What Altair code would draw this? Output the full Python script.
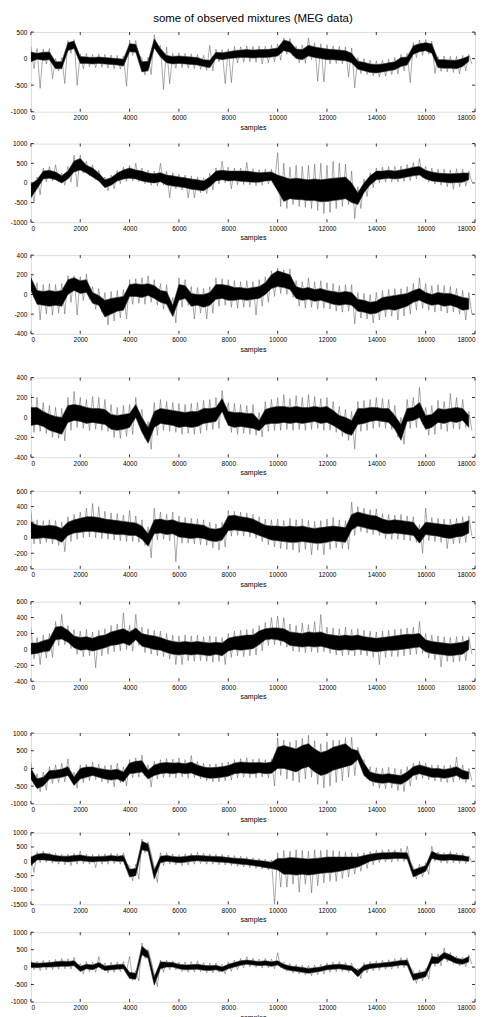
import altair as alt
import pandas as pd

FONT = "Liberation Sans"
W = 446

# sample positions of the read-off bins (every 250 samples)
samples = list(range(0, 18000, 250))
x_ticks = [0, 2000, 4000, 6000, 8000, 10000, 12000, 14000, 16000, 18000]

# ---------- panel 1 ----------
p1_lo = [-60,-10,-30,-20,-190,-190,150,190,-90,-90,-100,-90,-100,-110,-120,-140,130,120,-250,-230,
         200,30,-80,-100,-90,-100,-110,-120,-150,-170,0,-20,0,10,20,20,10,20,20,30,
         50,150,120,0,-20,50,20,0,-20,-20,-30,-40,-80,-200,-230,-260,-270,-250,-230,-210,
         -150,-120,80,130,150,100,-170,-180,-180,-190,-150,-50]
p1_hi = [125,100,120,125,-60,-60,300,330,40,30,20,30,20,10,0,-10,280,270,-60,-50,
         370,190,60,40,50,40,30,20,-20,-30,120,110,130,150,160,170,160,170,170,180,
         200,350,320,180,170,250,220,200,180,170,160,150,100,-50,-70,-100,-110,-100,-80,-60,
         20,30,240,280,300,280,-20,-20,-30,-30,0,50]
p1_min = [-190,-560,-100,-375,-230,-470,100,-500,-190,-150,-170,-160,-180,-190,-200,-520,60,50,-310,-300,
          150,-580,-470,-180,-170,-180,-190,-200,-220,-230,-60,-470,-450,-80,-70,-60,-70,-100,-80,-60,
          -30,80,50,-80,-90,-20,-425,-440,-100,-90,-100,-345,-550,-280,-300,-330,-350,-330,-300,-290,
          -230,-450,20,60,80,-280,-240,-250,-260,-290,-230,-100]
p1_max = [220,190,180,190,0,20,340,360,90,100,80,90,80,70,60,50,350,340,20,30,
          450,250,220,100,110,100,90,80,60,250,180,170,180,230,220,240,230,240,230,250,
          280,390,380,240,260,390,300,280,260,240,230,220,200,20,0,-30,-40,-30,-10,20,
          80,100,300,350,360,330,40,50,40,40,60,80]

# ---------- panel 2 ----------
p2_lo = [-380,-150,100,120,80,0,100,280,330,250,150,50,-120,-60,50,100,120,100,50,20,
         0,30,-50,-80,-100,-120,-160,-180,-200,-100,50,80,50,60,40,30,20,20,50,60,
         -200,-470,-400,-420,-430,-450,-450,-480,-470,-450,-430,-400,-500,-550,-250,-50,80,100,120,100,
         120,150,180,200,100,50,30,20,0,10,20,80]
p2_hi = [-30,80,300,320,280,180,300,560,620,450,380,250,80,130,250,330,380,330,300,250,
         230,260,200,180,150,130,100,80,50,150,300,320,300,300,300,300,280,260,270,280,
         200,150,100,120,100,80,100,80,100,120,130,150,0,-250,0,180,300,300,320,300,
         330,360,400,420,320,280,250,240,230,240,250,250]
p2_min = [-500,-300,30,50,20,-60,20,-100,250,180,80,-20,-200,-150,-20,40,50,30,-20,-60,
          -80,-50,-380,-150,-180,-380,-380,-250,-270,-180,-30,0,-150,-50,-40,-50,-70,-60,-30,-20,
          -600,-650,-550,-600,-620,-650,-700,-780,-750,-650,-600,-550,-910,-650,-350,-120,0,20,30,20,
          40,60,100,120,20,-30,-60,-100,-160,-100,-80,20]
p2_max = [20,150,380,420,460,250,420,700,710,550,460,330,150,200,320,400,450,500,380,330,
          300,500,300,260,220,200,180,150,130,250,380,550,400,380,380,520,360,340,350,350,
          770,500,400,450,420,450,480,500,450,550,500,480,300,-100,100,260,380,400,420,420,
          430,470,520,620,420,380,350,350,330,360,350,300]

# ---------- panel 3 ----------
p3_lo = [40,-100,-110,-120,-110,-120,0,40,10,20,-90,-110,-230,-200,-170,-160,-20,-20,-30,-10,
         -40,-80,-100,-225,-60,-40,-120,-110,-130,-110,-50,-40,-60,-60,-50,-60,-50,-40,0,60,
         80,70,50,-40,-60,-50,-70,-60,-80,-100,-110,-100,-110,-170,-180,-200,-190,-160,-150,-160,
         -140,-120,-80,-60,-90,-110,-100,-120,-110,-130,-160,-150]
p3_hi = [170,40,30,40,30,40,150,170,140,150,20,-10,-60,-40,-30,-20,100,110,100,110,
         90,40,30,-110,100,90,10,0,0,20,100,100,90,70,70,60,70,80,120,200,
         240,220,200,80,60,70,50,60,40,30,20,30,20,-50,-60,-80,-70,-30,-20,-10,
         0,10,40,60,20,0,20,10,10,-10,-30,-40]
p3_min = [-30,-260,-200,-210,-190,-200,-80,-210,-60,-50,-150,-180,-310,-270,-240,-250,-100,-90,-100,-80,
          -110,-150,-170,-290,-130,-110,-250,-190,-250,-190,-120,-110,-130,-140,-130,-130,-210,-120,-80,-20,
          10,0,-30,-120,-140,-130,-150,-140,-150,-170,-180,-170,-300,-240,-250,-290,-260,-230,-220,-260,
          -220,-200,-160,-140,-160,-180,-170,-190,-180,-200,-260,-200]
p3_max = [200,120,100,110,100,110,190,190,180,210,80,60,20,30,40,50,150,160,170,190,
          150,110,100,-30,170,150,80,70,60,80,170,160,150,140,130,140,130,150,180,240,
          270,250,260,140,130,170,130,140,120,110,90,100,100,20,10,0,20,40,50,60,
          60,80,110,170,110,90,100,90,80,60,40,20]

# ---------- panel 4 ----------
p4_lo = [-80,-70,-90,-130,-150,-170,-50,-30,-40,-60,-50,-60,-70,-120,-130,-120,-100,0,-150,-260,
         -100,-60,-70,-80,-100,-90,-100,-90,-60,-50,-40,60,-80,-100,-90,-100,-110,-135,-70,-60,
         -60,-50,-60,-50,-60,-50,-40,-60,-50,-80,-120,-160,-180,-70,-60,-40,-30,-40,-50,-120,
         -230,-40,-30,0,-120,-100,-50,-60,-40,-50,-30,-100]
p4_hi = [100,100,60,30,10,0,120,130,120,100,90,90,80,30,20,30,40,130,0,-100,
         60,90,80,70,60,50,60,60,90,90,100,190,60,50,50,40,40,-30,80,100,
         110,110,100,110,100,100,110,100,110,70,20,0,-30,90,90,100,100,90,90,20,
         -70,90,100,150,20,30,90,80,90,100,90,20]
p4_min = [-150,-140,-160,-200,-210,-235,-130,-100,-110,-130,-120,-130,-140,-200,-210,-190,-170,-70,-210,-320,
          -180,-130,-140,-150,-170,-160,-170,-160,-130,-120,-110,-20,-150,-170,-160,-170,-180,-195,-140,-130,
          -130,-120,-130,-120,-130,-120,-110,-130,-130,-150,-190,-230,-320,-140,-130,-110,-100,-110,-120,-200,
          -270,-110,-100,-70,-180,-170,-120,-140,-110,-120,-100,-130]
p4_max = [240,200,150,120,100,90,200,260,200,180,210,200,180,130,100,120,130,200,80,-40,
          150,180,160,150,140,130,140,150,170,180,200,270,150,140,130,120,130,50,160,180,
          200,230,190,220,200,230,210,190,200,160,110,80,60,160,170,180,200,190,180,120,
          0,180,200,300,100,120,170,160,240,200,180,60]

# ---------- panel 5 ----------
p5_lo = [-10,-10,0,-10,-20,-60,30,60,70,80,80,70,60,50,40,40,30,30,-20,-110,
         50,60,40,50,10,0,-10,0,-10,-40,-50,-30,90,100,90,80,60,30,0,-30,
         -40,-50,-60,-60,-50,-60,-70,-70,-60,-40,-50,-60,100,150,130,110,100,60,50,60,
         50,40,30,-70,40,30,20,0,-10,10,20,60]
p5_hi = [200,160,150,160,150,120,200,230,250,270,270,260,240,230,220,210,200,190,150,50,
         230,240,220,230,200,190,180,170,160,120,110,130,280,290,270,260,240,200,160,150,
         150,140,150,140,150,130,120,130,140,150,140,130,300,330,310,290,280,240,220,230,
         220,210,200,100,200,190,180,170,160,180,190,220]
p5_min = [-80,-80,-60,-80,-100,-180,-50,-20,0,10,0,-10,-20,-30,-40,-50,-50,-60,-100,-260,
          -30,-20,-40,-310,-70,-70,-80,-90,-100,-130,-160,-120,20,30,20,10,-10,-50,-90,-120,
          -140,-150,-160,-190,-150,-220,-160,-220,-150,-130,-140,-150,30,80,60,40,30,-10,-20,-20,
          -30,-40,-60,-200,-40,-50,-60,-140,-80,-70,-60,20]
p5_max = [350,230,220,230,220,200,270,300,330,380,440,400,340,320,310,290,350,280,230,140,
          380,330,300,330,280,260,250,240,230,200,180,200,350,340,330,320,300,270,240,230,
          240,220,250,230,240,220,210,220,240,260,230,220,460,400,380,360,370,310,300,290,
          300,280,270,170,380,260,250,240,240,250,270,280]

# ---------- panel 6 ----------
p6_lo = [-60,-50,-30,-20,120,130,90,20,-10,0,-20,0,20,50,60,80,50,120,40,20,
         0,-10,-40,-60,-70,-60,-70,-60,-70,-80,-60,-80,-20,0,-10,0,10,60,120,130,
         120,100,50,40,30,40,30,40,20,0,-10,0,-10,0,-10,-20,-30,-20,-10,-10,
         0,10,20,30,-30,-50,-60,-70,-80,-70,-60,0]
p6_hi = [80,80,110,130,280,290,240,170,150,160,140,170,180,220,240,260,220,270,200,180,
         170,150,120,100,90,100,90,100,90,80,90,80,140,160,170,180,180,230,260,270,
         270,260,220,210,200,220,210,220,190,180,170,180,170,180,160,150,140,150,160,170,
         180,190,190,200,120,100,90,80,70,80,90,120]
p6_min = [-120,-190,-110,-100,50,60,10,-60,-90,-80,-230,-80,-60,-30,-20,0,-20,50,-40,-60,
          -80,-90,-120,-190,-190,-140,-150,-140,-150,-160,-150,-190,-100,-80,-90,-80,-70,-20,50,60,
          50,30,-20,-30,-40,-30,-40,-30,-50,-70,-80,-70,-80,-70,-80,-100,-190,-100,-90,-90,
          -80,-70,-60,-50,-110,-130,-220,-150,-160,-150,-140,-60]
p6_max = [270,150,180,200,350,440,300,250,230,250,220,240,260,300,320,460,300,440,280,260,
          240,230,200,180,170,180,170,180,160,170,160,150,200,230,240,250,260,300,340,400,
          420,400,320,300,330,310,350,440,280,270,260,280,250,260,240,230,220,230,240,250,
          260,270,280,350,200,180,170,160,150,160,170,160]

# ---------- panel 7 ----------
p7_lo = [-300,-570,-500,-300,-280,-250,-200,-480,-300,-250,-200,-250,-300,-330,-300,-380,-150,-130,-100,-300,
         -200,-150,-130,-150,-120,-150,-130,-200,-250,-280,-270,-250,-220,-150,-130,-140,-150,-120,-150,-140,
         0,0,-50,-100,0,50,-100,-200,-150,-50,0,50,100,250,-200,-350,-400,-420,-400,-430,
         -450,-350,-200,-150,-200,-250,-250,-280,-250,-200,-300,-300]
p7_hi = [0,-290,-250,-60,-50,-20,50,-240,0,40,40,0,-30,-50,-20,-100,150,200,220,-50,
         100,150,170,150,160,130,180,100,40,20,30,50,80,150,180,170,160,170,150,180,
         600,650,600,550,650,700,550,450,500,600,650,700,550,500,150,-100,-150,-170,-150,-180,
         -200,-100,50,100,50,0,0,-30,0,50,-50,-100]
p7_min = [-450,-660,-620,-420,-400,-380,-330,-560,-400,-350,-320,-380,-420,-520,-400,-500,-260,-250,-220,-520,
          -300,-260,-250,-270,-240,-280,-260,-300,-350,-380,-380,-350,-330,-270,-250,-260,-270,-240,-270,-500,
          -200,-300,-350,-400,-300,-250,-450,-550,-500,-400,-350,-250,-200,150,-300,-500,-560,-580,-550,-620,
          -650,-500,-320,-280,-320,-350,-380,-400,-380,-330,-400,-350]
p7_max = [180,-150,-100,50,100,150,270,-100,100,120,180,120,80,100,150,50,250,300,380,100,
          200,250,280,260,300,250,365,200,150,120,130,160,180,250,280,300,260,280,250,260,
          860,800,750,800,850,940,780,700,750,800,800,870,880,600,250,50,20,0,30,0,
          -30,50,150,200,150,100,100,80,100,320,100,0]

# ---------- panel 8 ----------
p8_lo = [-150,50,50,30,0,0,-20,0,20,0,-20,0,0,20,0,0,-550,-500,400,350,
         -620,-50,0,-20,-50,-30,0,20,0,0,-20,-30,-50,-80,-100,-120,-150,-180,-220,-250,
         -300,-450,-450,-480,-450,-480,-450,-420,-400,-380,-350,-300,-250,-200,-100,0,50,80,80,100,
         100,80,-550,-450,-350,100,50,30,50,30,20,0]
p8_hi = [150,250,280,250,200,180,180,200,220,180,160,170,180,200,180,200,-280,-250,700,600,
         -300,180,200,170,150,170,200,200,190,180,170,160,130,110,100,80,50,30,0,-30,
         100,100,130,120,100,80,100,120,150,150,150,150,150,150,200,250,280,300,300,320,
         300,300,-300,-220,-150,350,250,230,250,220,200,150]
p8_min = [-390,-50,-30,-60,-100,-120,-150,-100,-80,-100,-220,-100,-100,-80,-100,-100,-680,-620,300,250,
          -740,-150,-100,-120,-150,-130,-100,-80,-100,-100,-120,-130,-150,-180,-200,-220,-250,-270,-300,-1500,
          -900,-900,-800,-1080,-800,-1100,-850,-750,-700,-700,-600,-550,-450,-350,-250,-120,-50,-20,-30,0,
          0,-20,-620,-550,-450,0,-50,-70,-50,-70,-80,-50]
p8_max = [200,330,360,300,280,250,250,280,360,250,240,240,260,280,260,300,-150,-100,780,680,
          -200,300,300,260,230,260,280,320,280,260,250,240,220,200,180,160,130,100,80,50,
          300,380,350,400,380,350,400,380,400,380,350,330,300,280,300,350,380,400,420,400,
          450,530,-200,-100,-50,530,330,300,350,300,280,200]

# ---------- panel 9 ----------
p9_lo = [0,-20,0,0,10,20,20,40,-130,-50,-80,0,-100,-80,-60,-50,-330,-350,350,250,
         -520,-50,0,0,-50,-80,-70,-60,-90,-100,-80,-130,-50,0,50,80,60,40,50,20,
         60,-50,-100,-120,-150,-180,-150,-120,-80,-60,-50,-80,-100,-280,-100,-40,-20,0,10,30,
         60,50,-380,-330,-280,100,100,250,180,100,80,150]
p9_hi = [130,110,120,130,150,170,160,180,20,80,60,130,30,50,70,80,-150,-180,600,450,
         -280,150,140,130,80,60,70,80,50,40,50,0,80,130,180,200,180,160,180,150,
         180,80,30,10,-10,-40,-20,0,50,70,80,60,30,-100,50,90,100,120,140,160,
         190,200,-200,-160,-120,300,280,420,350,250,220,300]
p9_min = [-80,-100,-80,-70,-60,-50,-60,-40,-200,-130,-150,-80,-170,-150,-130,-120,-380,-400,250,180,
          -560,-150,-80,-80,-130,-150,-140,-130,-160,-170,-150,-200,-120,-70,-20,0,-10,-30,-20,-50,
          -20,-120,-170,-200,-220,-250,-220,-200,-150,-130,-120,-150,-170,-330,-170,-110,-90,-70,-60,-40,
          -20,-30,-470,-400,-350,20,30,150,100,30,10,80]
p9_max = [200,170,190,200,220,250,240,280,100,160,140,300,120,140,150,160,310,-100,690,500,
          -200,200,200,180,150,150,160,180,130,110,120,80,150,200,250,300,260,230,250,230,
          410,150,100,80,60,50,60,80,120,150,160,130,110,-30,120,160,180,200,210,240,
          270,260,-100,-80,-40,400,380,550,420,320,280,350]

panels = [
    dict(lo=p1_lo, hi=p1_hi, mn=p1_min, mx=p1_max, dom=[-1000, 500], yt=[-1000, -500, 0, 500], h=80),
    dict(lo=p2_lo, hi=p2_hi, mn=p2_min, mx=p2_max, dom=[-1000, 1000], yt=[-1000, -500, 0, 500, 1000], h=79),
    dict(lo=p3_lo, hi=p3_hi, mn=p3_min, mx=p3_max, dom=[-400, 400], yt=[-400, -200, 0, 200, 400], h=79),
    dict(lo=p4_lo, hi=p4_hi, mn=p4_min, mx=p4_max, dom=[-400, 400], yt=[-400, -200, 0, 200, 400], h=80),
    dict(lo=p5_lo, hi=p5_hi, mn=p5_min, mx=p5_max, dom=[-400, 600], yt=[-400, -200, 0, 200, 400, 600], h=78),
    dict(lo=p6_lo, hi=p6_hi, mn=p6_min, mx=p6_max, dom=[-400, 600], yt=[-400, -200, 0, 200, 400, 600], h=80),
    dict(lo=p7_lo, hi=p7_hi, mn=p7_min, mx=p7_max, dom=[-1000, 1000], yt=[-1000, -500, 0, 500, 1000], h=71),
    dict(lo=p8_lo, hi=p8_hi, mn=p8_min, mx=p8_max, dom=[-1500, 1000], yt=[-1500, -1000, -500, 0, 500, 1000], h=72),
    dict(lo=p9_lo, hi=p9_hi, mn=p9_min, mx=p9_max, dom=[-1000, 1000], yt=[-1000, -500, 0, 500, 1000], h=70),
]
gaps = [32, 33, 44, 34, 33, 52, 29, 28]

TITLE = "some of observed mixtures (MEG data)"


def make_panel(p, first):
    H = p["h"]
    core = pd.DataFrame({"s": samples, "lo": p["lo"], "hi": p["hi"]})
    zs, zv = [], []
    for s, a, b in zip(samples, p["mx"], p["mn"]):
        zs += [s, s + 125]
        zv += [a, b]
    zig = pd.DataFrame({"s": zs, "v": zv})
    xt = pd.DataFrame({"s": x_ticks})
    yt = pd.DataFrame({"v": p["yt"]})

    xscale = alt.Scale(domain=[0, 18000], nice=False, zero=False)
    yscale = alt.Scale(domain=p["dom"], nice=False, zero=False)
    xaxis = alt.Axis(values=x_ticks, title="samples", labelExpr="toString(datum.value)",
                     ticks=False, domain=False, grid=False, labelPadding=3, titlePadding=2,
                     labelFont=FONT, labelFontSize=6.5, labelColor="#000",
                     titleFont=FONT, titleFontSize=7, titleFontWeight="normal", titleColor="#000")
    yaxis = alt.Axis(values=p["yt"], title=None, labelExpr="toString(datum.value)",
                     ticks=False, domain=False, grid=False, labelPadding=4,
                     labelFont=FONT, labelFontSize=6.5, labelColor="#000")
    X = alt.X("s:Q", scale=xscale, axis=xaxis)

    line = alt.Chart(zig).mark_line(color="#555", strokeWidth=0.55, opacity=0.9, clip=True).encode(
        x=X, y=alt.Y("v:Q", scale=yscale, axis=yaxis))
    area = alt.Chart(core).mark_area(color="#000", clip=True, stroke="#333", strokeWidth=0.6).encode(
        x=X, y=alt.Y("lo:Q", scale=yscale, axis=yaxis), y2="hi:Q")
    tb = alt.Chart(xt).mark_rule(color="#000", strokeWidth=0.8).encode(
        x=X, y=alt.value(H), y2=alt.value(H - 3))
    tt = alt.Chart(xt).mark_rule(color="#000", strokeWidth=0.8).encode(
        x=X, y=alt.value(0), y2=alt.value(3))
    tl = alt.Chart(yt).mark_rule(color="#000", strokeWidth=0.8).encode(
        y=alt.Y("v:Q", scale=yscale, axis=yaxis), x=alt.value(0), x2=alt.value(3))
    tr = alt.Chart(yt).mark_rule(color="#000", strokeWidth=0.8).encode(
        y=alt.Y("v:Q", scale=yscale, axis=yaxis), x=alt.value(W), x2=alt.value(W - 3))

    ch = alt.layer(line, area, tb, tt, tl, tr).properties(width=W, height=H)
    if first:
        ch = ch.properties(title=alt.TitleParams(TITLE, font=FONT, fontSize=11.5, fontWeight="normal",
                                                 color="#000", offset=5, anchor="middle"))
    return ch


def spacer(h):
    return alt.Chart(pd.DataFrame({"z": [0]})).mark_point(opacity=0).encode(
        x=alt.value(0), y=alt.value(0)
    ).properties(width=W, height=h, view=alt.ViewBackground(strokeOpacity=0))


items = []
for i, p in enumerate(panels):
    items.append(make_panel(p, i == 0))
    if i < len(gaps):
        items.append(spacer(gaps[i]))

chart = alt.vconcat(*items, spacing=0, bounds="flush").properties(
    padding={"left": 1, "right": 0, "top": 2, "bottom": 0}
).configure_view(stroke="#000", strokeWidth=1).configure(background="white")

chart.save("out.html", embed_options={"renderer": "svg", "actions": False})
